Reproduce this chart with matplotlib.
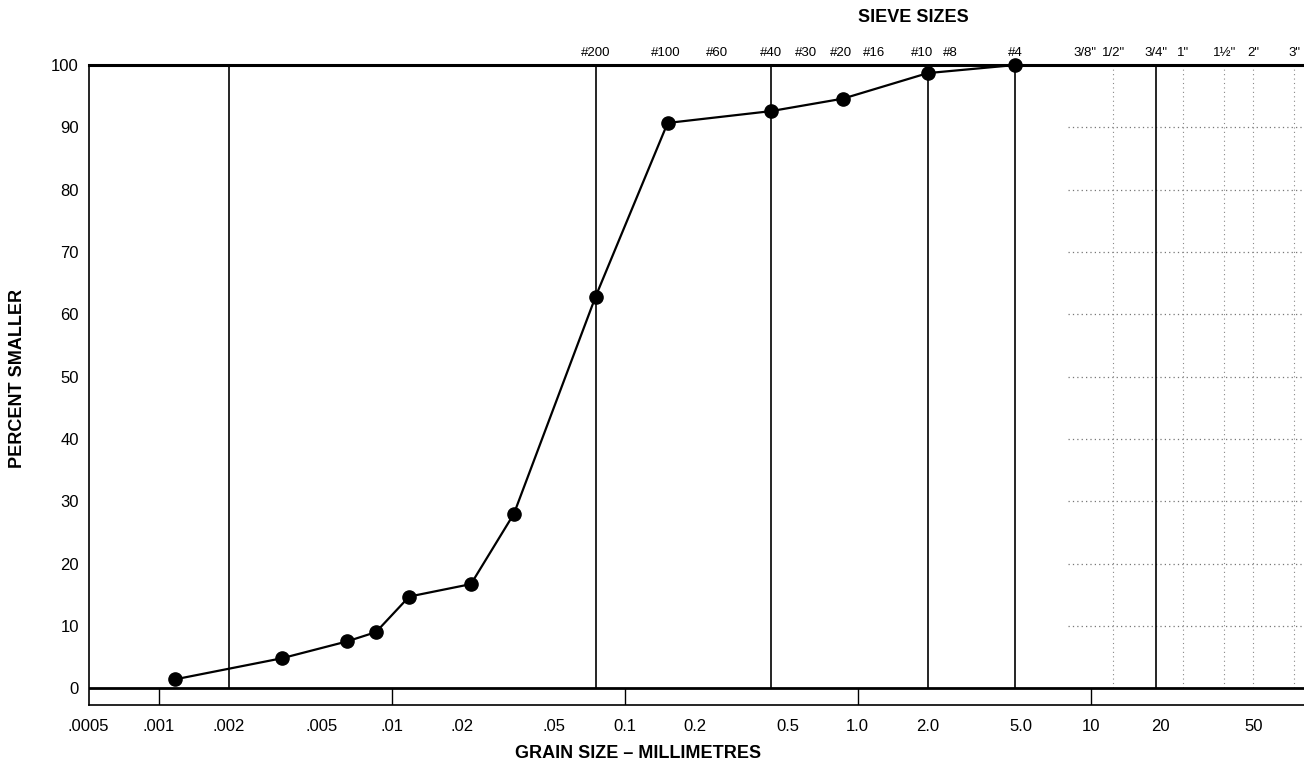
import matplotlib
matplotlib.use("Agg")
import matplotlib.pyplot as plt

plt.rcParams['font.family'] = ['Liberation Sans', 'DejaVu Sans']

# measured grain size distribution
grain_mm = [0.00117, 0.00338, 0.00643, 0.00857, 0.0119, 0.0219, 0.0335,
            0.075, 0.153, 0.425, 0.865, 2.0, 4.75]
pct_smaller = [1.4, 4.8, 7.5, 9.0, 14.7, 16.7, 28.0, 62.8, 90.7, 92.6, 94.6, 98.7, 100.0]

# bottom scale
mm_ticks = [0.0005, 0.001, 0.002, 0.005, 0.01, 0.02, 0.05, 0.1, 0.2, 0.5,
            1.0, 2.0, 5.0, 10, 20, 50]
mm_labels = ['.0005', '.001', '.002', '.005', '.01', '.02', '.05', '0.1', '0.2',
             '0.5', '1.0', '2.0', '5.0', '10', '20', '50']
decades = [0.001, 0.01, 0.1, 1, 10]

# sieve scale on top
sieve_mm = [0.075, 0.15, 0.25, 0.425, 0.6, 0.85, 1.18, 2.0, 2.36, 4.75,
            9.5, 12.5, 19, 25, 37.5, 50, 75]
sieve_labels = ['#200', '#100', '#60', '#40', '#30', '#20', '#16', '#10', '#8', '#4',
                '3/8"', '1/2"', '3/4"', '1"', '1½"', '2"', '3"']
solid_lines = [0.002, 0.075, 0.425, 2.0, 4.75, 19]
dotted_lines = [12.5, 25, 37.5, 50, 75]

fig = plt.figure(figsize=(13.04, 7.70), dpi=100)
ax = fig.add_axes([88.5 / 1304, 65 / 770, 1 - 88.5 / 1304, 640 / 770])
ax.set_xscale('log')
ax.set_xlim(0.0005, 82.4)
ax.set_ylim(-2.7, 100)

# grid
ax.hlines(range(10, 100, 10), 8, 82.4, colors='#777777', linestyles=(0, (1, 2.5)), lw=0.9)
ax.vlines(dotted_lines, 0, 100, colors='#888888', linestyles=(0, (1, 3)), lw=0.8)
ax.vlines(solid_lines, 0, 100, colors='black', lw=1.2)

# zero line and bottom strip ticks
ax.axhline(0, color='black', lw=2.0)
ax.vlines(decades, -2.7, 0, colors='black', lw=1.0)

ax.plot(grain_mm, pct_smaller, color='black', lw=1.6, marker='o', ms=9.5,
        clip_on=False, zorder=5)

ax.spines['right'].set_visible(False)
ax.spines['top'].set_linewidth(2.2)
ax.spines['left'].set_linewidth(1.2)
ax.spines['bottom'].set_linewidth(1.2)

ax.set_yticks(range(0, 101, 10))
ax.tick_params(axis='y', length=0, pad=7, labelsize=12)
ax.set_xticks(mm_ticks)
ax.set_xticklabels(mm_labels)
ax.xaxis.set_minor_locator(matplotlib.ticker.NullLocator())
ax.tick_params(axis='x', length=0, pad=10, labelsize=12)

# crowded sieve labels get nudged apart
nudge = {'#10': -4, '#8': 4}
for x, lab in zip(sieve_mm, sieve_labels):
    ax.annotate(lab, (x, 100), xytext=(nudge.get(lab, 0), 4), textcoords='offset points',
                ha='center', va='bottom', fontsize=9.5, annotation_clip=False)

fig.text(913 / 1304, 1 - 18 / 770, 'SIEVE SIZES', ha='center', va='center',
         fontsize=13, fontweight='bold')
fig.text(18 / 1304, 1 - 378 / 770, 'PERCENT SMALLER', ha='center', va='center',
         rotation=90, fontsize=13, fontweight='bold')
fig.text(638 / 1304, 1 - 753 / 770, 'GRAIN SIZE – MILLIMETRES', ha='center', va='center',
         fontsize=13, fontweight='bold')

fig.savefig('out.png', dpi=100)
